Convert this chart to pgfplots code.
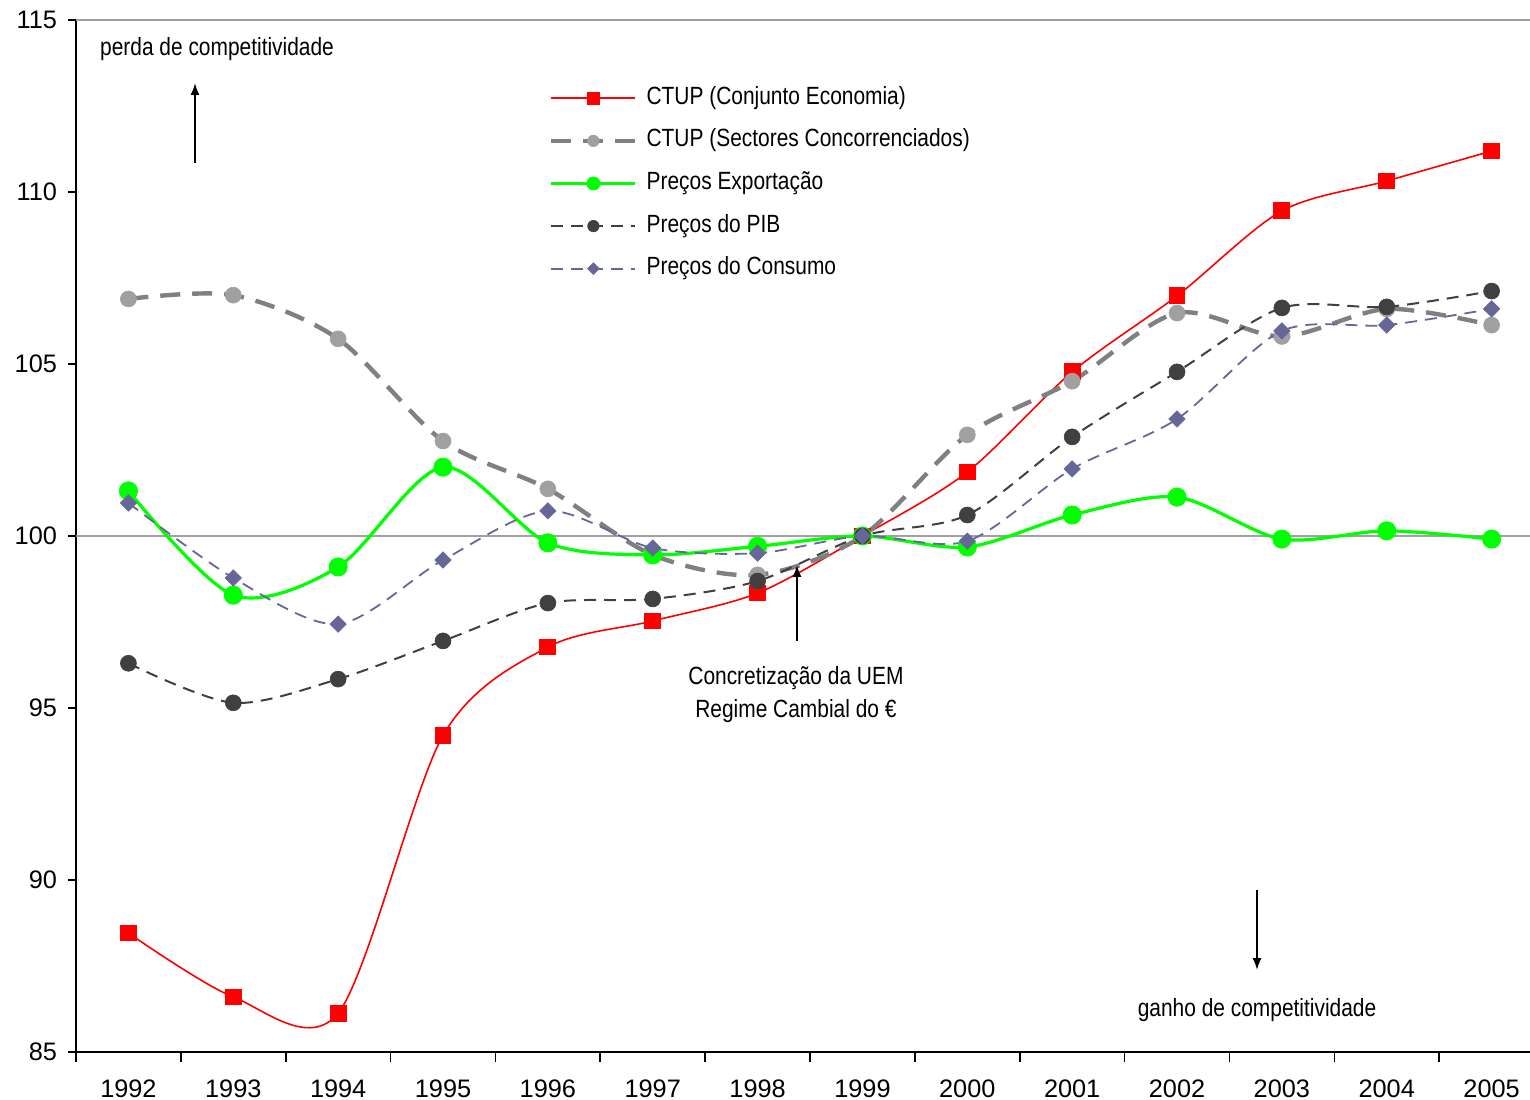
\documentclass[border=0pt]{standalone}
\usepackage{pgfplots}
\pgfplotsset{compat=1.18}
\usepackage{pgfplotstable}
\usetikzlibrary{arrows.meta}
\usepackage{fontspec}
\setmainfont{Liberation Sans}
\newfontfamily\narrowfont{Liberation Sans}[FakeStretch=0.84]
\definecolor{cred}{HTML}{FF0000}
\definecolor{cgrayl}{HTML}{808080}
\definecolor{cgraym}{HTML}{A0A0A0}
\definecolor{cgreen}{HTML}{00FF00}
\definecolor{cdark}{HTML}{404040}
\definecolor{cpurple}{HTML}{666699}
\definecolor{cgrid}{HTML}{A0A0A0}

\pgfplotstableread{
x ctup sect exp pib cons
0 88.46 106.89 101.31 96.30 100.96
1 86.60 107.00 98.28 95.15 98.78
2 86.13 105.73 99.10 95.84 97.44
3 94.20 102.76 102.00 96.95 99.30
4 96.77 101.37 99.80 98.05 100.73
5 97.53 99.45 99.45 98.17 99.65
6 98.34 98.87 99.70 98.69 99.50
7 100.00 100.00 100.00 100.00 100.00
8 101.86 102.94 99.68 100.61 99.85
9 104.77 104.50 100.61 102.88 101.95
10 106.98 106.48 101.13 104.77 103.40
11 109.45 105.80 99.91 106.63 105.96
12 110.32 106.60 100.15 106.66 106.13
13 111.19 106.13 99.91 107.12 106.60
}\data

\begin{document}
\begin{tikzpicture}[x=1bp,y=1bp]
\path[use as bounding box] (0,0) rectangle (765,550);
\begin{axis}[
  at={(38bp,24bp)}, anchor=south west,
  scale only axis, width=734bp, height=516bp,
  xmin=-0.5, xmax=13.5, ymin=85, ymax=115,
  axis x line*=bottom, axis y line*=left,
  axis line style={-, black, line width=0.8bp},
  xtick={0,...,13},
  xticklabels={1992,1993,1994,1995,1996,1997,1998,1999,2000,2001,2002,2003,2004,2005},
  minor xtick={-0.5,0.5,...,13.5},
  ytick={85,90,...,115},
  tick align=outside,
  major tick length=4bp, minor tick length=5bp,
  x tick style={draw=none},
  minor x tick style={draw=black, line width=0.8bp},
  y tick style={black, line width=0.8bp},
  /pgf/number format/assume math mode=true,
  tick label style={font=\fontsize{12.7}{14}\selectfont},
  xticklabel style={yshift=-6.5bp},
  yticklabel style={xshift=-2bp},
  clip=false,
  legend cell align=left,
  legend style={at={(0.318,0.940)}, anchor=north west, draw=none, fill=none,
    font=\narrowfont\fontsize{12.5}{14}\selectfont,
    nodes={inner sep=0pt, text height=9bp, text depth=3bp},
    row sep=9.3bp, column sep=4.5bp},
  legend image code/.code={\draw[mark repeat=2,mark phase=2,every mark/.append style={scale=0.72}] plot coordinates {(0bp,0bp) (21bp,0bp) (42bp,0bp)};},
]
\addplot[cgrid, line width=0.8bp, forget plot] coordinates {(-0.5,100) (13.5,100)};
\addplot[cgrid, line width=0.8bp, forget plot] coordinates {(-0.5,115) (13.5,115)};

\addplot[cred, line width=0.8bp, smooth, mark=square*, mark size=3.8bp,
  mark options={solid, fill=cred, draw=cred}] table[x=x,y=ctup] {\data};
\addlegendentry{CTUP (Conjunto Economia)}
\addplot[cgrayl, line width=2.2bp, smooth, dash pattern=on 10bp off 6bp, mark=*, mark size=4bp,
  mark options={solid, fill=cgraym, draw=cgraym, line width=0.3bp}] table[x=x,y=sect] {\data};
\addlegendentry{CTUP (Sectores Concorrenciados)}
\addplot[cgreen, line width=1.6bp, smooth, mark=*, mark size=4.6bp,
  mark options={solid, fill=cgreen, draw=cgreen, line width=0.3bp}] table[x=x,y=exp] {\data};
\addlegendentry{Preços Exportação}
\addplot[cdark, line width=1bp, smooth, dash pattern=on 6bp off 4bp, mark=*, mark size=4bp,
  mark options={solid, fill=cdark, draw=cdark, line width=0.3bp}] table[x=x,y=pib] {\data};
\addlegendentry{Preços do PIB}
\addplot[cpurple, line width=0.9bp, smooth, dash pattern=on 6bp off 4bp, mark=square*, mark size=2.9bp,
  mark options={solid, rotate=45, fill=cpurple, draw=cpurple, line width=0.3bp}] table[x=x,y=cons] {\data};
\addlegendentry{Preços do Consumo}

\node[font=\narrowfont\fontsize{12.5}{14}\selectfont] at (axis cs:0.845,114.16) {perda de competitividade};
\draw[-{Latex[length=6bp,width=4.5bp]}, line width=1bp] (axis cs:0.635,110.84) -- (axis cs:0.635,113.17);
\draw[-{Latex[length=6bp,width=4.5bp]}, line width=1bp] (axis cs:6.376,96.95) -- (axis cs:6.376,99.16);
\node[font=\narrowfont\fontsize{12.5}{14}\selectfont] at (axis cs:6.366,95.87) {Concretização da UEM};
\node[font=\narrowfont\fontsize{12.5}{14}\selectfont] at (axis cs:6.366,94.91) {Regime Cambial do €};
\draw[-{Latex[length=6bp,width=4.5bp]}, line width=1bp] (axis cs:10.763,89.71) -- (axis cs:10.763,87.38);
\node[font=\narrowfont\fontsize{12.5}{14}\selectfont] at (axis cs:10.763,86.22) {ganho de competitividade};
\end{axis}
\end{tikzpicture}
\end{document}
